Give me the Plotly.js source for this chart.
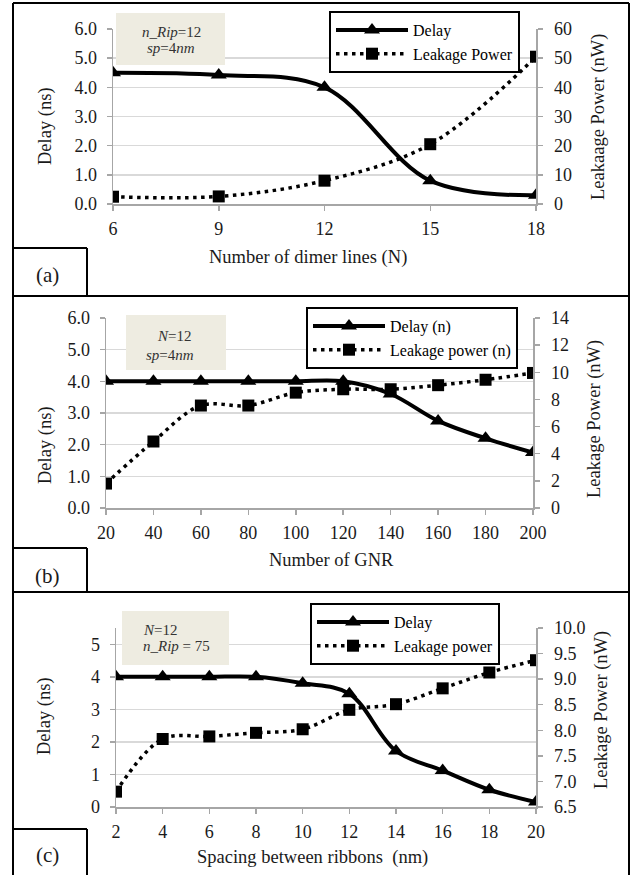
<!DOCTYPE html>
<html><head><meta charset="utf-8">
<script src="https://cdn.plot.ly/plotly-3.0.1.min.js"></script>
<style>html,body{margin:0;padding:0;background:#fff}#chart{width:636px;height:875px}</style>
</head><body><div id="chart"></div>
<script>
// ---- data: panel (a)
const dimerLines = [6, 9, 12, 15, 18];
const delayA = [4.5, 4.42, 4.0, 0.8, 0.3];
const leakA = [2.5, 2.6, 8.0, 20.5, 50.5];
// ---- data: panel (b)
const gnrCount = [20, 40, 60, 80, 100, 120, 140, 160, 180, 200];
const delayB = [4.0, 4.0, 4.0, 4.0, 4.0, 4.0, 3.6, 2.75, 2.2, 1.75];
const leakB = [1.8, 4.9, 7.55, 7.55, 8.5, 8.75, 8.75, 9.05, 9.45, 9.95];
// ---- data: panel (c)
const spacing = [2, 4, 6, 8, 10, 12, 14, 16, 18, 20];
const delayC = [4.0, 4.0, 4.0, 4.0, 3.8, 3.48, 1.72, 1.12, 0.53, 0.15];
const leakC = [6.8, 7.83, 7.88, 7.95, 8.02, 8.4, 8.51, 8.82, 9.13, 9.37];

const W = 636, H = 875;
const px = v => v / W, py = v => 1 - v / H;
const SERIF = '"Liberation Serif", "Times New Roman", serif';
const tickFont = {family: SERIF, size: 18, color: '#1a1a1a'};
const AX = '#a6a6a6';

function xAx(dom, anchor, range, vals) {
  return {domain: [px(dom[0]), px(dom[1])], anchor, range, tickvals: vals, ticks: 'outside', ticklen: 5,
    tickcolor: AX, tickwidth: 1.5, showline: true, linecolor: AX, linewidth: 1.5, showgrid: false,
    zeroline: false, tickfont: tickFont, ticklabelstandoff: 3, fixedrange: true};
}
function yAx(dom, anchor, range, dtick, fmt) {
  return {domain: [py(dom[1]), py(dom[0])], anchor, range, dtick, tick0: range[0], tickformat: fmt,
    ticks: 'outside', ticklen: 5, tickcolor: AX, tickwidth: 1.5, showline: true, linecolor: AX,
    linewidth: 1.5, showgrid: true, gridcolor: '#d9d9d9', gridwidth: 1.5, zeroline: false,
    tickfont: tickFont, ticklabelstandoff: 6, fixedrange: true};
}
function y2Ax(over, anchor, range, dtick, fmt) {
  return {overlaying: over, side: 'right', anchor, range, dtick, tick0: range[0], tickformat: fmt,
    ticks: 'outside', ticklen: 5, tickcolor: AX, tickwidth: 1.5, showline: true, linecolor: AX,
    linewidth: 1.5, showgrid: false, zeroline: false, tickfont: tickFont, ticklabelstandoff: 8, fixedrange: true};
}

function delayTrace(x, y, xa, ya, name, lg) {
  return {x, y, xaxis: xa, yaxis: ya, name, legend: lg, type: 'scatter', mode: 'lines+markers',
    line: {color: '#000', width: 4, shape: 'spline', smoothing: 1},
    marker: {symbol: 'triangle-up', size: 14, color: '#000'}};
}
function leakTrace(x, y, xa, ya, name, lg) {
  return {x, y, xaxis: xa, yaxis: ya, name, legend: lg, type: 'scatter', mode: 'lines+markers',
    line: {color: '#000', width: 3.5, dash: '3.5px,4.5px', shape: 'spline', smoothing: 1},
    marker: {symbol: 'square', size: 12, color: '#000'}};
}

const data = [
  delayTrace(dimerLines, delayA, 'x', 'y', 'Delay', 'legend'),
  leakTrace(dimerLines, leakA, 'x', 'y2', 'Leakage Power', 'legend'),
  delayTrace(gnrCount, delayB, 'x2', 'y3', 'Delay (n)', 'legend2'),
  leakTrace(gnrCount, leakB, 'x2', 'y4', 'Leakage power (n)', 'legend2'),
  delayTrace(spacing, delayC, 'x3', 'y5', 'Delay', 'legend3'),
  leakTrace(spacing, leakC, 'x3', 'y6', 'Leakage power', 'legend3')
];

function legendAt(x, y) {
  return {x: px(x), y: py(y), xanchor: 'left', yanchor: 'top', bgcolor: '#fff', bordercolor: '#000',
    borderwidth: 2, font: {family: SERIF, size: 16, color: '#000'}, itemwidth: 72, tracegroupgap: 0,
    orientation: 'v'};
}

function line(x0, y0, x1, y1) {
  return {type: 'line', xref: 'paper', yref: 'paper', x0: px(x0), y0: py(y0), x1: px(x1), y1: py(y1),
    line: {color: '#000', width: 2}};
}
function box(x0, y0, x1, y1) {
  return {type: 'rect', xref: 'paper', yref: 'paper', x0: px(x0), y0: py(y0), x1: px(x1), y1: py(y1),
    fillcolor: '#eeece1', line: {width: 0}, layer: 'above'};
}
const shapes = [
  line(13, 3, 629, 3), line(13, 3, 13, 875), line(629, 3, 629, 875),
  line(13, 296, 629, 296), line(13, 592, 629, 592),
  line(13, 248, 87, 248), line(87, 248, 87, 296),
  line(13, 548, 87, 548), line(87, 548, 87, 592),
  line(13, 829, 87, 829), line(87, 829, 87, 875),
  box(116, 13, 225, 65), box(126, 315, 226, 370), box(122, 611, 229, 665)
];

function txt(text, x, y, size, opts) {
  return Object.assign({text, xref: 'paper', yref: 'paper', x: px(x), y: py(y), xanchor: 'center',
    yanchor: 'middle', showarrow: false, font: {family: SERIF, size, color: '#1a1a1a'}}, opts || {});
}
const noteFont = {family: SERIF, size: 15, color: '#333'};
const annotations = [
  // axis titles (a)
  txt('Number of dimer lines (N)', 308, 257, 18.5),
  txt('Delay (ns)', 45, 126, 18.5, {textangle: -90}),
  txt('Leakaage Power (nW)', 599, 117, 18.5, {textangle: -90}),
  // (b)
  txt('Number of GNR', 331, 560, 18.5),
  txt('Delay (ns)', 45, 445, 18.5, {textangle: -90}),
  txt('Leakage Power (nW)', 594, 419, 18.5, {textangle: -90}),
  // (c)
  txt('Spacing between ribbons\u00a0 (nm)', 312, 857, 18.5),
  txt('Delay (ns)', 44, 716, 18.5, {textangle: -90}),
  txt('Leakage Power (nW)', 601, 710, 18.5, {textangle: -90}),
  // panel labels
  txt('(a)', 47, 275, 21), txt('(b)', 47, 576, 21), txt('(c)', 47, 855, 21),
  // parameter notes
  txt('<i>n_Rip</i>=12', 171, 32, 15, {font: noteFont}),
  txt('<i>sp</i>=4<i>nm</i>', 171, 48, 15, {font: noteFont}),
  txt('<i>N</i>=12', 174, 336, 15, {font: noteFont}),
  txt('<i>sp</i>=4<i>nm</i>', 170, 355, 15, {font: noteFont}),
  txt('<i>N</i>=12', 141, 630, 15, {font: noteFont, xanchor: 'left'}),
  txt('<i>n_Rip</i>\u00a0=\u00a075', 141, 646, 15, {font: noteFont, xanchor: 'left'})
];

const layout = {
  width: W, height: H, margin: {l: 0, r: 0, t: 0, b: 0}, paper_bgcolor: '#fff', plot_bgcolor: 'rgba(0,0,0,0)',
  font: {family: SERIF, color: '#1a1a1a'},
  xaxis: xAx([113, 536], 'y', [6, 18], dimerLines),
  yaxis: yAx([29, 204], 'x', [0, 6], 1, '.1f'),
  yaxis2: y2Ax('y', 'x', [0, 60], 10, 'd'),
  xaxis2: xAx([106, 533], 'y3', [20, 200], gnrCount),
  yaxis3: yAx([318, 508], 'x2', [0, 6], 1, '.1f'),
  yaxis4: y2Ax('y3', 'x2', [0, 14], 2, 'd'),
  xaxis3: xAx([116, 536], 'y5', [2, 20], spacing),
  yaxis5: yAx([628, 807], 'x3', [0, 5.5], 1, 'd'),
  yaxis6: y2Ax('y5', 'x3', [6.5, 10], 0.5, '.1f'),
  legend: legendAt(329, 11),
  legend2: legendAt(306, 307),
  legend3: legendAt(310, 603),
  shapes, annotations, showlegend: true
};

Plotly.newPlot('chart', data, layout, {displayModeBar: false, staticPlot: true});
</script></body></html>
